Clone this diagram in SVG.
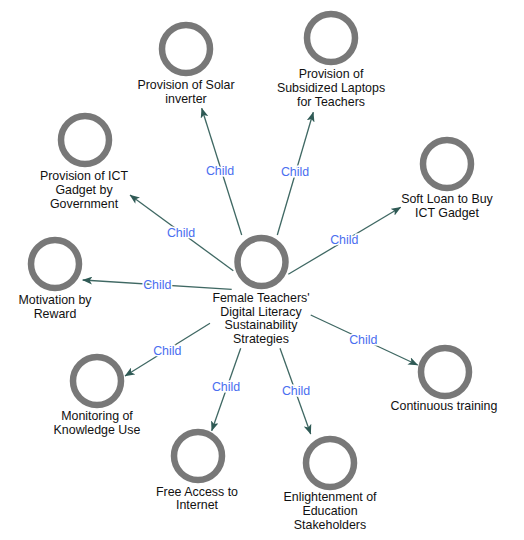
<svg xmlns="http://www.w3.org/2000/svg" width="524" height="540" viewBox="0 0 524 540">
<defs>
<marker id="arr" viewBox="0 0 10 8" refX="9.5" refY="4" markerWidth="10" markerHeight="8" markerUnits="userSpaceOnUse" orient="auto">
<path d="M0,0 L10,4 L0,8 L2.5,4 Z" fill="#2f5a55"/>
</marker>
</defs>
<style>
.ring{fill:none;stroke:#787878;stroke-width:6.5}
.t{font-family:"Liberation Sans",Arial,sans-serif;font-size:12.4px;fill:#111;text-anchor:middle}
.e{stroke:#3f6863;stroke-width:1.3;fill:none;marker-end:url(#arr)}
.l{font-family:"Liberation Sans",Arial,sans-serif;font-size:12.4px;fill:#4a6ef0;text-anchor:middle;stroke:#fff;stroke-width:3;paint-order:stroke}
</style>
<rect width="524" height="540" fill="#fff"/>
<g id="connectors">
<line class="e" x1="241.7" y1="235" x2="201.7" y2="108.3"/>
<line class="e" x1="277.3" y1="235" x2="313.3" y2="112.3"/>
<line class="e" x1="233.3" y1="270.7" x2="130" y2="195"/>
<line class="e" x1="231.7" y1="289.3" x2="82.7" y2="280"/>
<line class="e" x1="288.3" y1="274.3" x2="400.7" y2="207.3"/>
<line class="e" x1="210" y1="323.3" x2="125" y2="376"/>
<line class="e" x1="240.7" y1="348.3" x2="211.7" y2="430.7"/>
<line class="e" x1="280" y1="348.3" x2="310.7" y2="434"/>
<line class="e" x1="310.7" y1="315" x2="417.7" y2="365"/>
<text class="l" x="220" y="175">Child</text>
<text class="l" x="295" y="176.3">Child</text>
<text class="l" x="181" y="236.7">Child</text>
<text class="l" x="157.3" y="289">Child</text>
<text class="l" x="344.3" y="244">Child</text>
<text class="l" x="167.3" y="354.7">Child</text>
<text class="l" x="226" y="391.3">Child</text>
<text class="l" x="296" y="394.7">Child</text>
<text class="l" x="363.3" y="344">Child</text>
</g>
<g id="center">
<circle class="ring" cx="261.5" cy="262" r="24"/>
<text class="t" x="261" y="302">Female Teachers'</text>
<text class="t" x="261" y="315.5">Digital Literacy</text>
<text class="t" x="261" y="329">Sustainability</text>
<text class="t" x="261" y="342.5">Strategies</text>
</g>
<g id="solar">
<circle class="ring" cx="186" cy="49" r="24"/>
<text class="t" x="186" y="89">Provision of Solar</text>
<text class="t" x="186" y="103">inverter</text>
</g>
<g id="laptops">
<circle class="ring" cx="331" cy="38" r="24"/>
<text class="t" x="331" y="78">Provision of</text>
<text class="t" x="331" y="92">Subsidized Laptops</text>
<text class="t" x="331" y="106">for Teachers</text>
</g>
<g id="ictgov">
<circle class="ring" cx="85" cy="140" r="24"/>
<text class="t" x="84" y="180">Provision of ICT</text>
<text class="t" x="84" y="194">Gadget by</text>
<text class="t" x="84" y="208">Government</text>
</g>
<g id="motivation">
<circle class="ring" cx="55" cy="264" r="24"/>
<text class="t" x="55" y="304">Motivation by</text>
<text class="t" x="55" y="318">Reward</text>
</g>
<g id="softloan">
<circle class="ring" cx="447" cy="164" r="24"/>
<text class="t" x="447" y="203">Soft Loan to Buy</text>
<text class="t" x="447" y="217">ICT Gadget</text>
</g>
<g id="continuous">
<circle class="ring" cx="445" cy="372" r="24"/>
<text class="t" x="444" y="410">Continuous training</text>
</g>
<g id="monitoring">
<circle class="ring" cx="97" cy="381" r="24"/>
<text class="t" x="97" y="420">Monitoring of</text>
<text class="t" x="97" y="434">Knowledge Use</text>
</g>
<g id="freeaccess">
<circle class="ring" cx="198" cy="456" r="24"/>
<text class="t" x="197" y="496">Free Access to</text>
<text class="t" x="197" y="509">Internet</text>
</g>
<g id="enlightenment">
<circle class="ring" cx="330" cy="463" r="24"/>
<text class="t" x="330" y="501">Enlightenment of</text>
<text class="t" x="330" y="515">Education</text>
<text class="t" x="330" y="529">Stakeholders</text>
</g>
</svg>
